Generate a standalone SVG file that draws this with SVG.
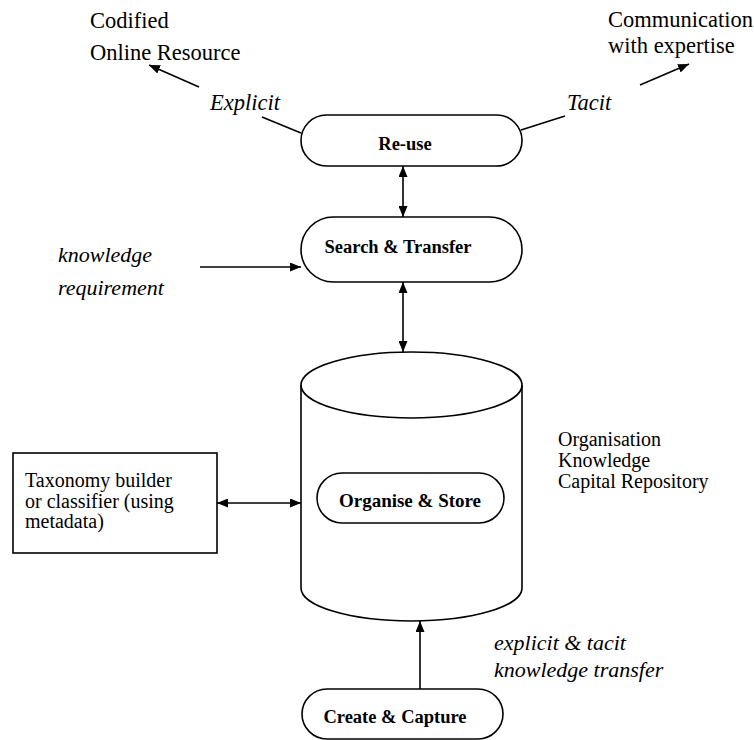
<svg xmlns="http://www.w3.org/2000/svg" width="754" height="740" viewBox="0 0 754 740">
<defs>
<marker id="ah" viewBox="0 0 11 9" refX="11" refY="4.5" markerWidth="11" markerHeight="9" markerUnits="userSpaceOnUse" orient="auto-start-reverse">
<path d="M0,0 L11,4.5 L0,9 z" fill="#000"/>
</marker>
<style>
.shape{fill:#fff;stroke:#000;stroke-width:1.6}
.ln{fill:none;stroke:#000;stroke-width:1.6}
.arr{fill:none;stroke:#000;stroke-width:1.6;marker-end:url(#ah)}
.dbl{fill:none;stroke:#000;stroke-width:1.6;marker-start:url(#ah);marker-end:url(#ah)}
</style>
</defs>
<rect width="754" height="740" fill="#fff"/>

<g id="connectors">
<line class="ln" x1="262" y1="117" x2="301" y2="133"/>
<line class="arr" x1="199" y1="87" x2="149" y2="65"/>
<line class="ln" x1="521" y1="130" x2="565" y2="116"/>
<line class="arr" x1="640" y1="85" x2="689" y2="64"/>
<line class="dbl" x1="403" y1="166" x2="403" y2="217"/>
<line class="arr" x1="200" y1="267" x2="301" y2="267"/>
<line class="dbl" x1="403" y1="282" x2="403" y2="352"/>
<line class="dbl" x1="217" y1="503" x2="301" y2="503"/>
<line class="arr" x1="420" y1="689" x2="420" y2="621"/>
</g>

<g id="codified">
<text x="90" y="28" style="font-family:'Liberation Serif',serif;font-size:22.5px">Codified</text>
<text x="90" y="60" style="font-family:'Liberation Serif',serif;font-size:22.5px">Online Resource</text>
</g>
<g id="communication">
<text x="608" y="27" style="font-family:'Liberation Serif',serif;font-size:22.5px">Communication</text>
<text x="608" y="53" style="font-family:'Liberation Serif',serif;font-size:22.5px">with expertise</text>
</g>
<text x="210" y="110" style="font-family:'Liberation Serif',serif;font-size:22.5px;font-style:italic">Explicit</text>
<text x="567" y="110" style="font-family:'Liberation Serif',serif;font-size:22.5px;font-style:italic">Tacit</text>

<g id="reuse">
<rect class="shape" x="301" y="115" width="221" height="51" rx="25.5" ry="25.5"/>
<text x="405" y="150" text-anchor="middle" style="font-family:'Liberation Serif',serif;font-size:18.5px;font-weight:bold">Re-use</text>
</g>

<g id="search">
<rect class="shape" x="301" y="217" width="221" height="65" rx="32.5" ry="32.5"/>
<text x="398" y="253" text-anchor="middle" style="font-family:'Liberation Serif',serif;font-size:18.5px;font-weight:bold">Search &amp; Transfer</text>
</g>

<g id="knowledge-req">
<text x="58" y="262" style="font-family:'Liberation Serif',serif;font-size:22px;font-style:italic">knowledge</text>
<text x="58" y="295" style="font-family:'Liberation Serif',serif;font-size:22px;font-style:italic">requirement</text>
</g>

<g id="repository">
<path class="shape" d="M301,385 A110.5,33 0 0 1 522,385 L522,588 A110.5,33 0 0 1 301,588 Z"/>
<path class="ln" d="M301,385 A110.5,33 0 0 0 522,385"/>
<g id="organise">
<rect class="shape" x="317" y="473" width="187" height="50" rx="25" ry="25"/>
<text x="410" y="507" text-anchor="middle" style="font-family:'Liberation Serif',serif;font-size:19px;font-weight:bold">Organise &amp; Store</text>
</g>
</g>

<g id="repo-label">
<text x="558" y="446" style="font-family:'Liberation Serif',serif;font-size:20px">Organisation</text>
<text x="558" y="467" style="font-family:'Liberation Serif',serif;font-size:20px">Knowledge</text>
<text x="558" y="488" style="font-family:'Liberation Serif',serif;font-size:20px">Capital Repository</text>
</g>

<g id="taxonomy">
<rect class="shape" x="13" y="453" width="204" height="100"/>
<text x="25" y="487" style="font-family:'Liberation Serif',serif;font-size:20px">Taxonomy builder</text>
<text x="25" y="508" style="font-family:'Liberation Serif',serif;font-size:20px">or classifier (using</text>
<text x="25" y="528" style="font-family:'Liberation Serif',serif;font-size:20px">metadata)</text>
</g>

<g id="transfer-label">
<text x="494" y="650" style="font-family:'Liberation Serif',serif;font-size:22px;font-style:italic">explicit &amp; tacit</text>
<text x="494" y="677" style="font-family:'Liberation Serif',serif;font-size:22px;font-style:italic">knowledge transfer</text>
</g>

<g id="create">
<rect class="shape" x="302" y="689" width="201" height="50" rx="25" ry="25"/>
<text x="395" y="723" text-anchor="middle" style="font-family:'Liberation Serif',serif;font-size:18.5px;font-weight:bold">Create &amp; Capture</text>
</g>
</svg>
